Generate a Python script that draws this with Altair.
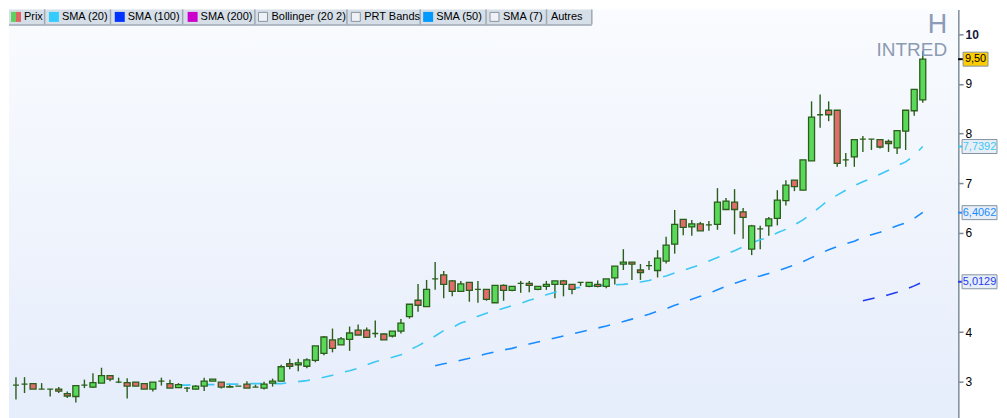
import altair as alt
import pandas as pd

# ---------------- data ----------------
opens = [2.93, 2.95, 2.96, 2.85, 2.85, 2.85, 2.76, 2.70, 2.93, 2.89,
         2.97, 3.12, 2.99, 2.98, 2.99, 2.96, 2.85, 3.01, 2.96, 2.88,
         2.87, 2.85, 2.91, 3.01, 2.99, 2.89, 2.91, 2.95, 2.89, 2.87,
         2.97, 3.01, 3.36, 3.34, 3.31, 3.43, 3.57, 3.84, 3.74, 3.85,
         4.04, 4.04, 3.97, 3.96, 3.92, 4.02, 4.31, 4.64, 4.51, 5.07,
         5.15, 5.03, 4.82, 5.00, 4.86, 4.86, 4.59, 4.94, 4.84, 4.98,
         4.98, 4.86, 4.92, 4.96, 5.03, 4.96, 5.00, 4.92, 4.96, 4.92,
         5.09, 5.37, 5.41, 5.25, 5.34, 5.24, 5.43, 5.77, 6.27, 6.12,
         6.18, 6.16, 6.17, 6.47, 6.62, 6.42, 5.67, 6.08, 6.14, 6.29,
         6.65, 7.06, 6.86, 7.45, 8.38, 8.47, 8.47, 7.47, 7.53, 7.89,
         7.89, 7.88, 7.84, 7.71, 8.05, 8.46, 8.68]
highs = [3.09, 3.09, 2.96, 2.97, 2.85, 2.89, 2.80, 2.92, 3.04, 3.17,
         3.28, 3.12, 3.08, 3.07, 2.99, 2.96, 2.99, 3.08, 3.04, 2.97,
         2.89, 2.93, 3.08, 3.05, 2.99, 2.95, 2.91, 3.01, 2.94, 3.00,
         3.06, 3.34, 3.46, 3.46, 3.47, 3.72, 3.92, 4.07, 3.90, 4.11,
         4.15, 4.09, 4.23, 3.97, 4.02, 4.26, 4.56, 4.97, 5.05, 5.41,
         5.23, 5.05, 5.03, 5.00, 5.03, 4.86, 4.94, 4.96, 4.92, 5.03,
         5.03, 4.92, 5.03, 5.03, 5.05, 4.96, 5.00, 5.00, 5.04, 5.07,
         5.33, 5.67, 5.41, 5.37, 5.43, 5.65, 5.92, 6.46, 6.27, 6.26,
         6.22, 6.24, 6.90, 6.70, 6.88, 6.50, 6.16, 6.14, 6.32, 6.86,
         7.06, 7.06, 7.47, 8.65, 8.79, 8.65, 8.47, 7.61, 7.88, 7.95,
         7.89, 7.88, 7.88, 8.06, 8.47, 8.89, 9.67]
lows = [2.64, 2.77, 2.85, 2.85, 2.70, 2.77, 2.67, 2.58, 2.87, 2.87,
        2.97, 3.01, 2.97, 2.66, 2.91, 2.85, 2.80, 2.92, 2.87, 2.87,
        2.79, 2.84, 2.81, 3.01, 2.86, 2.88, 2.91, 2.87, 2.89, 2.84,
        2.90, 3.01, 3.25, 3.21, 3.27, 3.39, 3.53, 3.59, 3.74, 3.62,
        3.94, 3.89, 3.89, 3.84, 3.89, 3.97, 4.27, 4.41, 4.51, 4.85,
        4.68, 4.72, 4.82, 4.61, 4.59, 4.63, 4.59, 4.63, 4.82, 4.79,
        4.80, 4.84, 4.85, 4.68, 4.72, 4.76, 4.93, 4.90, 4.90, 4.88,
        4.96, 5.25, 5.05, 5.05, 5.25, 5.10, 5.38, 5.58, 5.95, 5.94,
        6.04, 6.04, 6.06, 6.47, 5.97, 5.88, 5.55, 5.67, 5.94, 6.15,
        6.55, 6.84, 6.86, 7.45, 8.12, 8.25, 7.33, 7.33, 7.33, 7.63,
        7.67, 7.70, 7.63, 7.59, 7.67, 8.36, 8.62]
closes = [2.93, 2.95, 2.85, 2.85, 2.85, 2.81, 2.71, 2.92, 2.93, 2.98,
          3.12, 3.05, 2.99, 2.91, 2.91, 2.85, 2.99, 3.01, 2.87, 2.94,
          2.87, 2.91, 3.01, 3.05, 2.89, 2.90, 2.91, 2.87, 2.89, 2.95,
          3.01, 3.30, 3.31, 3.38, 3.44, 3.72, 3.90, 3.67, 3.86, 3.98,
          3.94, 3.89, 3.97, 3.84, 4.02, 4.18, 4.56, 4.54, 4.86, 5.07,
          4.96, 4.82, 4.97, 4.84, 4.86, 4.66, 4.94, 4.84, 4.92, 4.98,
          4.94, 4.92, 4.96, 5.03, 4.96, 4.86, 5.00, 5.00, 4.92, 5.07,
          5.33, 5.41, 5.37, 5.20, 5.34, 5.49, 5.75, 6.17, 6.11, 6.18,
          6.04, 6.16, 6.62, 6.64, 6.47, 6.31, 6.14, 6.08, 6.28, 6.66,
          6.96, 6.93, 7.47, 8.33, 8.38, 8.38, 7.40, 7.47, 7.88, 7.89,
          7.89, 7.73, 7.80, 8.06, 8.47, 8.89, 9.50]

sma20_start = 20
sma20 = [2.93, 2.93, 2.94, 2.94, 2.94, 2.95, 2.95, 2.95, 2.96, 2.96,
         2.96, 2.96, 2.96, 2.98, 3.00, 3.02, 3.05, 3.09, 3.13, 3.18,
         3.22, 3.27, 3.34, 3.40, 3.45, 3.49, 3.54, 3.64, 3.72, 3.82,
         3.92, 4.03, 4.09, 4.18, 4.24, 4.32, 4.38, 4.42, 4.48, 4.53,
         4.58, 4.64, 4.69, 4.75, 4.80, 4.85, 4.88, 4.90, 4.92, 4.94,
         4.94, 4.95, 4.96, 4.98, 5.01, 5.04, 5.09, 5.13, 5.19, 5.24,
         5.30, 5.36, 5.43, 5.50, 5.57, 5.64, 5.72, 5.80, 5.86, 5.91,
         6.00, 6.07, 6.16, 6.26, 6.39, 6.52, 6.67, 6.76, 6.86, 6.95,
         7.03, 7.10, 7.18, 7.26, 7.35, 7.43, 7.56, 7.74]
sma50_start = 50
sma50 = [3.32, 3.36, 3.39, 3.43, 3.47, 3.52, 3.56, 3.60, 3.64, 3.67,
         3.72, 3.76, 3.80, 3.84, 3.88, 3.92, 3.96, 4.00, 4.04, 4.08,
         4.12, 4.17, 4.21, 4.26, 4.31, 4.36, 4.42, 4.47, 4.54, 4.59,
         4.66, 4.72, 4.78, 4.85, 4.92, 4.98, 5.04, 5.09, 5.13, 5.18,
         5.23, 5.29, 5.35, 5.42, 5.50, 5.58, 5.66, 5.72, 5.78, 5.83,
         5.91, 5.96, 6.01, 6.08, 6.14, 6.20, 6.29, 6.41]
sma100_start = 100
sma100 = [4.63, 4.67, 4.71, 4.75, 4.80, 4.86, 4.93, 5.01]

sma_names = ["SMA (20)", "SMA (50)", "SMA (100)"]
sma_colors = ["#3cc8f5", "#1a8cff", "#1f3cf0"]

badge_values = [7.7392, 6.4062, 5.0129]
badge_labels = ["7,7392", "6,4062", "5,0129"]
price_value = [9.50]
price_label = ["9,50"]

legend_labels = ["Prix", "SMA (20)", "SMA (100)", "SMA (200)", "Bollinger (20 2)",
                 "PRT Bands", "SMA (50)", "SMA (7)", "Autres"]
legend_kinds = ["split", "swatch", "swatch", "swatch", "box", "box", "swatch", "box", "none"]
legend_swatch = ["", "#33ccff", "#0033ff", "#cc00cc", "", "", "#0099ff", "", ""]

axis_values = [3, 4, 6, 7, 8, 9, 10]

# ---------------- layout / style ----------------
W, H = 951, 410
legend_x = [2, 40, 106, 179, 250, 343, 415, 482, 543]   # swatch left edges
legend_sep = [35.7, 101.7, 174, 246.4, 338.6, 412, 478, 538.6, 584]
GREEN, RED, OUTLINE = "#5ad85a", "#e26b6b", "#2b5e1b"

xs = alt.Scale(domain=[0.769, 110.545], nice=False, zero=False)
ys = alt.Scale(domain=[2.255, 10.503], nice=False, zero=False)
yaxis = alt.Axis(
    orient="right", values=axis_values, title=None, grid=False,
    domainColor="#7d8b99", domainWidth=2, tickColor="#7d8b99", tickSize=5, tickWidth=1.5,
    labelFont="Liberation Sans", labelFontSize=12, labelPadding=2,
    labelColor={"condition": {"test": "datum.value == 10", "value": "#141a40"}, "value": "#000000"},
    labelFontWeight={"condition": {"test": "datum.value == 10", "value": "bold"}, "value": "normal"},
)


def Y(field):
    return alt.Y(field, scale=ys, axis=yaxis, title=None)


idx = list(range(1, len(closes) + 1))
df = pd.DataFrame(dict(i=idx, open=opens, high=highs, low=lows, close=closes))

rows = []
for name, start, vals in zip(sma_names, [sma20_start, sma50_start, sma100_start],
                             [sma20, sma50, sma100]):
    for k, v in enumerate(vals):
        rows.append(dict(i=start + k, v=v, s=name))
sma_df = pd.DataFrame(rows)

X = alt.X("i:Q", scale=xs, axis=None)

bg = alt.Chart(pd.DataFrame({"a": [0]})).mark_rect(
    fill={"gradient": "linear", "x1": 0, "x2": 0, "y1": 0, "y2": 1,
          "stops": [{"offset": 0, "color": "#f9fbfe"}, {"offset": 1, "color": "#e6edfb"}]}
).encode(x=alt.value(0), x2=alt.value(W), y=alt.value(0), y2=alt.value(H))

wicks = alt.Chart(df).mark_rule(color=OUTLINE, strokeWidth=1.4).encode(
    x=X, y=Y("low:Q"), y2="high:Q")

lines = alt.Chart(sma_df).mark_line(strokeDash=[12, 12], strokeWidth=1.6).encode(
    x=X,
    y=Y("v:Q"),
    color=alt.Color("s:N", scale=alt.Scale(domain=sma_names, range=sma_colors), legend=None),
    detail="s:N",
)

bodies = alt.Chart(df).mark_bar(size=6, stroke=OUTLINE, strokeWidth=1.3).encode(
    x=X,
    y=Y("open:Q"),
    y2="close:Q",
    fill=alt.condition("datum.close >= datum.open", alt.value(GREEN), alt.value(RED)),
)

# watermark
wm_h = alt.Chart(pd.DataFrame({"t": ["H"]})).mark_text(
    align="right", baseline="alphabetic", font="Liberation Sans", fontSize=27, color="#8c9bb8"
).encode(x=alt.value(940), y=alt.value(24), text="t:N")
wm_n = alt.Chart(pd.DataFrame({"t": ["INTRED"]})).mark_text(
    align="right", baseline="alphabetic", font="Liberation Sans", fontSize=19, color="#8c9ab2"
).encode(x=alt.value(940), y=alt.value(47), text="t:N")

# price / indicator badges on the right axis
bdf = pd.DataFrame(dict(v=badge_values, lab=badge_labels, col=sma_colors))
pdf = pd.DataFrame(dict(v=price_value, lab=price_label, col=["#000000"]))
badge_shape = "M-1,-0.4L1,-0.4L1,0.4L-1,0.4Z"
price_shape = "M-1,-0.56L1,-0.56L1,0.56L-1,0.56Z"
bticks = alt.Chart(pd.concat([bdf, pdf])).mark_rule(strokeWidth=2).encode(
    x=alt.value(W), x2=alt.value(W + 5), y=Y("v:Q"),
    color=alt.Color("col:N", scale=None))
bbox = alt.Chart(bdf).mark_point(shape=badge_shape, size=1225, filled=True, fill="#e8eef6",
                                 stroke="#8494a4", strokeWidth=1, opacity=1, clip=False).encode(
    x=alt.value(972.5), y=Y("v:Q"))
btext = alt.Chart(bdf).mark_text(font="Liberation Sans", fontSize=11, baseline="middle",
                                 align="center", clip=False).encode(
    x=alt.value(972.5), y=Y("v:Q"), text="lab:N",
    color=alt.Color("col:N", scale=None))
pbox = alt.Chart(pdf).mark_point(shape=price_shape, size=625, filled=True, fill="#ffcc00",
                                 stroke="#8494a4", strokeWidth=1, opacity=1, clip=False).encode(
    x=alt.value(968.5), y=Y("v:Q"))
ptext = alt.Chart(pdf).mark_text(font="Liberation Sans", fontSize=11, baseline="middle",
                                 align="center", color="#000000", clip=False).encode(
    x=alt.value(968.5), y=Y("v:Q"), text="lab:N")

# legend bar at the top
ldf = pd.DataFrame(dict(label=legend_labels, kind=legend_kinds, sw=legend_swatch,
                        sx=legend_x, tx=[x + 13 for x in legend_x]))
ldf.loc[ldf.kind == "none", "tx"] = legend_x[-1]
bar_bg = alt.Chart(pd.DataFrame({"a": [0]})).mark_rect(fill="#d6dfe8").encode(
    x=alt.value(0), x2=alt.value(legend_sep[-1]), y=alt.value(0), y2=alt.value(15))
bar_line = alt.Chart(pd.DataFrame({"a": [0]})).mark_rule(color="#9aa6b2", strokeWidth=1.5).encode(
    x=alt.value(0), x2=alt.value(legend_sep[-1]), y=alt.value(15.5))
seps = alt.Chart(pd.DataFrame({"sx": legend_sep})).mark_rule(color="#9ea9b4", strokeWidth=1.5).encode(
    x=alt.X("sx:Q", scale=None, axis=None), y=alt.value(0), y2=alt.value(15))
sw = alt.Chart(ldf[ldf.kind == "swatch"]).mark_rect().encode(
    x=alt.X("sx:Q", scale=None, axis=None), x2="sx2:Q", y=alt.value(2.5), y2=alt.value(12.5),
    fill=alt.Color("sw:N", scale=None)).transform_calculate(sx2="datum.sx + 10")
split_g = alt.Chart(ldf[ldf.kind == "split"]).mark_rect(fill="#5fcf5f").encode(
    x=alt.X("sx:Q", scale=None, axis=None), x2="sx2:Q", y=alt.value(2.5), y2=alt.value(12.5)
).transform_calculate(sx2="datum.sx + 5")
split_r = alt.Chart(ldf[ldf.kind == "split"]).mark_rect(fill="#e06262").encode(
    x=alt.X("sx2:Q", scale=None, axis=None), x2="sx3:Q", y=alt.value(2.5), y2=alt.value(12.5)
).transform_calculate(sx2="datum.sx + 5", sx3="datum.sx + 10")
boxes = alt.Chart(ldf[ldf.kind == "box"]).mark_rect(fill="#eef2f6", stroke="#8a949e", strokeWidth=1).encode(
    x=alt.X("sx:Q", scale=None, axis=None), x2="sx2:Q", y=alt.value(3), y2=alt.value(12)
).transform_calculate(sx2="datum.sx + 9")
ltext = alt.Chart(ldf).mark_text(align="left", baseline="middle", font="Liberation Sans",
                                 fontSize=11, color="#000000").encode(
    x=alt.X("tx:Q", scale=None, axis=None), y=alt.value(8), text="label:N")

chart = alt.layer(
    bg, wicks, lines, bodies, wm_h, wm_n, bticks, bbox, btext, pbox, ptext,
    bar_bg, bar_line, seps, sw, split_g, split_r, boxes, ltext,
).properties(
    width=W, height=H, padding={"left": 0, "top": 0, "right": 0, "bottom": 0},
    background="#ffffff",
).configure_view(strokeWidth=0)

chart.save("out.html", embed_options={"renderer": "svg", "actions": False})
